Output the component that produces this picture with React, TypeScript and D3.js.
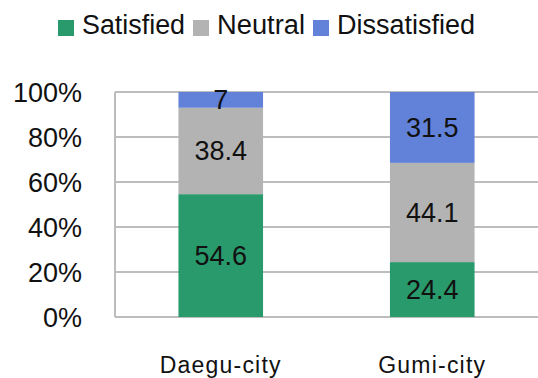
import React from "react";
import * as d3 from "d3";

const categories = ["Daegu-city", "Gumi-city"];
const seriesNames = ["Satisfied", "Neutral", "Dissatisfied"];
const satisfied = [54.6, 24.4];
const neutral = [38.4, 44.1];
const dissatisfied = [7, 31.5];
const yTicks = [0, 20, 40, 60, 80, 100];
const colors = ["#299a6b", "#b3b3b3", "#6182d8"];

const W = 538;
const H = 378;
const M = { left: 115, right: 0, top: 92, bottom: 61 };
const FONT = "'Liberation Sans', Arial, sans-serif";

export default function App() {
  const x = d3
    .scaleBand<string>()
    .domain(categories)
    .range([M.left, W - M.right]);
  const y = d3.scaleLinear().domain([0, 100]).range([H - M.bottom, M.top]);
  const barW = x.step() * 0.4;

  const rows = categories.map((c, i) => ({
    cat: c,
    Satisfied: satisfied[i],
    Neutral: neutral[i],
    Dissatisfied: dissatisfied[i],
  }));
  const stack = d3.stack<any>().keys(seriesNames)(rows);

  const legendItems = [
    { name: "Satisfied", sq: 58, tx: 82, w: 103 },
    { name: "Neutral", sq: 193, tx: 217, w: 88 },
    { name: "Dissatisfied", sq: 313, tx: 337, w: 138 },
  ];

  return (
    <svg
      width={W}
      height={H}
      style={{ position: "absolute", left: 0, top: 0, background: "#fff" }}
      fontFamily={FONT}
    >
      {/* legend */}
      {legendItems.map((l, i) => (
        <g key={l.name}>
          <rect x={l.sq} y={20} width={16} height={16} fill={colors[i]} />
          <text
            x={l.tx}
            y={34}
            fontSize={27}
            fill="#111"
            textLength={l.w}
            lengthAdjust="spacingAndGlyphs"
          >
            {l.name}
          </text>
        </g>
      ))}

      {/* gridlines */}
      {yTicks.map((t) => (
        <line
          key={t}
          x1={M.left}
          x2={W - M.right}
          y1={y(t)}
          y2={y(t)}
          stroke="#bdbdbd"
          strokeWidth={2}
        />
      ))}
      <line
        x1={M.left}
        x2={M.left}
        y1={y(0)}
        y2={y(100)}
        stroke="#bdbdbd"
        strokeWidth={2}
      />

      {/* y tick labels */}
      {yTicks.map((t) => (
        <text
          key={t}
          x={82}
          y={y(t) + 10}
          fontSize={27}
          textAnchor="end"
          fill="#111"
        >
          {t}%
        </text>
      ))}

      {/* bars */}
      {stack.map((s, si) =>
        s.map((d, i) => {
          const cx = (x(categories[i]) as number) + x.bandwidth() / 2;
          const y0 = y(d[0]);
          const y1 = y(d[1]);
          const v = d[1] - d[0];
          return (
            <g key={`${si}-${i}`}>
              <rect
                x={cx - barW / 2}
                y={y1}
                width={barW}
                height={y0 - y1}
                fill={colors[si]}
              />
              <text
                x={cx}
                y={(y0 + y1) / 2 + 9.5}
                fontSize={27}
                textAnchor="middle"
                fill="#111"
              >
                {String(v % 1 === 0 ? v.toFixed(0) : v.toFixed(1))}
              </text>
            </g>
          );
        })
      )}

      {/* category labels */}
      {categories.map((c) => (
        <text
          key={c}
          x={(x(c) as number) + x.bandwidth() / 2}
          y={373}
          fontSize={23}
          textAnchor="middle"
          fill="#111"
          letterSpacing={1.2}
        >
          {c}
        </text>
      ))}
    </svg>
  );
}
